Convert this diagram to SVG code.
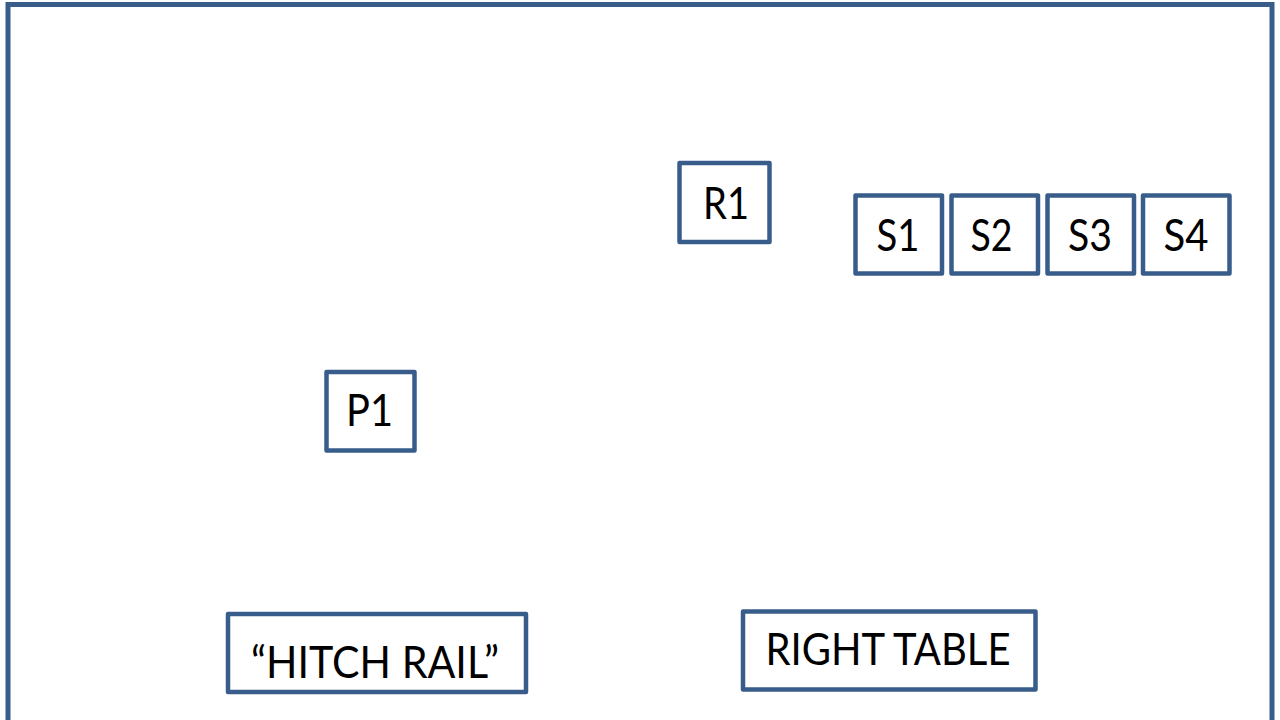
<svg xmlns="http://www.w3.org/2000/svg" width="1280" height="720" viewBox="0 0 1280 720">
<style>
.box{fill:#FFFFFF;stroke:#385D8A;stroke-width:4.5;stroke-linejoin:round}
.frame{fill:#FFFFFF;stroke:#385D8A;stroke-width:5}
.lbl{font-family:Lato,"Liberation Sans",Arial,sans-serif;font-size:44px;fill:#000000;text-anchor:middle}
</style>
<rect class="frame" x="8" y="4.5" width="1264" height="730"/>
<g id="connectors"></g>
<g id="R1"><rect class="box" x="679.5" y="163" width="90" height="79"/><text class="lbl" x="726" y="219" textLength="46" lengthAdjust="spacingAndGlyphs">R1</text></g>
<g id="S1"><rect class="box" x="855.5" y="195.5" width="86.5" height="78"/><text class="lbl" x="898" y="250.5" textLength="43" lengthAdjust="spacingAndGlyphs">S1</text></g>
<g id="S2"><rect class="box" x="951.5" y="195.5" width="86.5" height="78"/><text class="lbl" x="991.5" y="250.5" textLength="42" lengthAdjust="spacingAndGlyphs">S2</text></g>
<g id="S3"><rect class="box" x="1047.5" y="195.5" width="86.5" height="78"/><text class="lbl" x="1090" y="250.5" textLength="44" lengthAdjust="spacingAndGlyphs">S3</text></g>
<g id="S4"><rect class="box" x="1143" y="195.5" width="86.5" height="78"/><text class="lbl" x="1186" y="250.5" textLength="45" lengthAdjust="spacingAndGlyphs">S4</text></g>
<g id="P1"><rect class="box" x="326.5" y="372" width="88" height="78.5"/><text class="lbl" x="369.5" y="426" textLength="47" lengthAdjust="spacingAndGlyphs">P1</text></g>
<g id="hitch-rail"><rect class="box" x="228" y="614" width="298" height="78"/><text class="lbl" x="375" y="677.5" textLength="248" lengthAdjust="spacingAndGlyphs">“HITCH RAIL”</text></g>
<g id="right-table"><rect class="box" x="743" y="611.5" width="292.5" height="78"/><text class="lbl" x="888" y="665" textLength="245" lengthAdjust="spacingAndGlyphs">RIGHT TABLE</text></g>
</svg>
